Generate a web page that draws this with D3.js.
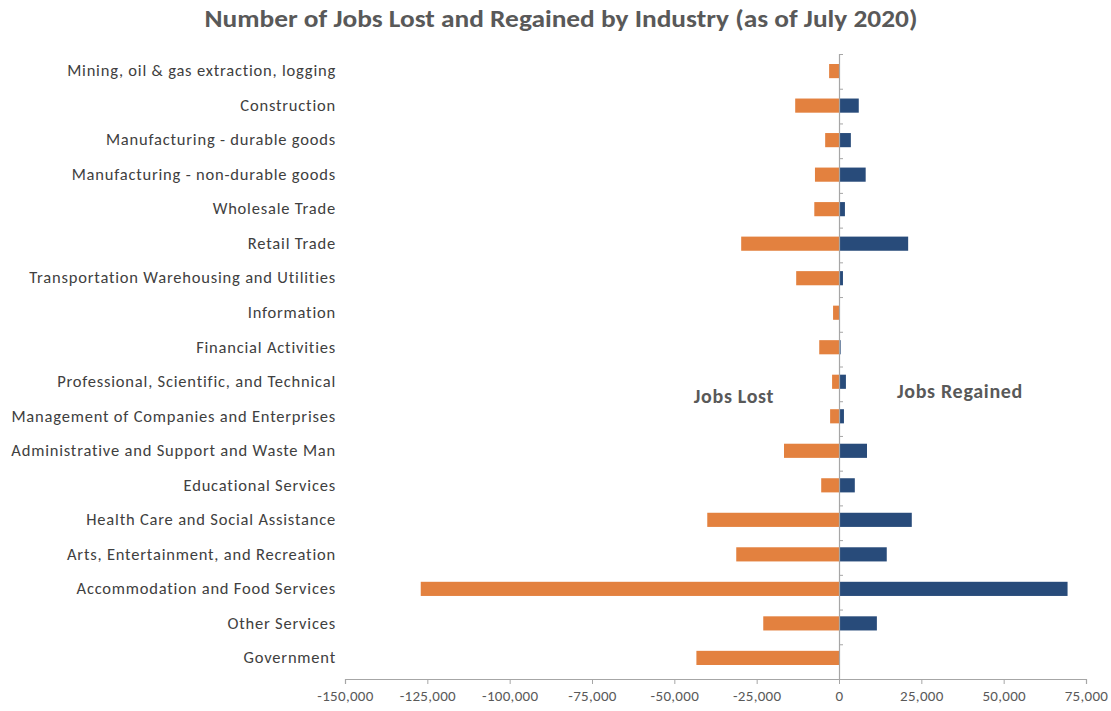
<!DOCTYPE html>
<html><head><meta charset="utf-8">
<script src="https://cdn.jsdelivr.net/npm/d3@7"></script>
<style>
body{margin:0;background:#fff;}
svg{display:block;}
</style></head>
<body><svg id="chart" width="1111" height="711"></svg>
<script>
const categories = [
  "Mining, oil & gas extraction, logging",
  "Construction",
  "Manufacturing - durable goods",
  "Manufacturing - non-durable goods",
  "Wholesale Trade",
  "Retail Trade",
  "Transportation Warehousing and Utilities",
  "Information",
  "Financial Activities",
  "Professional, Scientific, and Technical",
  "Management of Companies and Enterprises",
  "Administrative and Support and Waste Man",
  "Educational Services",
  "Health Care and Social Assistance",
  "Arts, Entertainment, and Recreation",
  "Accommodation and Food Services",
  "Other Services",
  "Government"
];
const jobsLost = [-3000,-13300,-4200,-7300,-7500,-29700,-13000,-1800,-6000,-2100,-2700,-16700,-5400,-40000,-31200,-127000,-23000,-43300];
const jobsRegained = [0,6000,3600,8100,1800,21000,1200,0,500,2100,1500,8500,4800,22100,14500,69400,11500,0];
const xTicks = [-150000,-125000,-100000,-75000,-50000,-25000,0,25000,50000,75000];
const title = "Number of Jobs Lost and Regained by Industry (as of July 2020)";

(function(){
const svg = d3.select("#chart");
const mLeft = 345, mRight = 1086, mTop = 54, mBottom = 679;
const x = d3.scaleLinear().domain([-150000,75000]).range([mLeft,mRight]);
const y = d3.scaleBand().domain(categories).range([mTop,mBottom-4]).paddingInner(0.59).paddingOuter(0.29);

const font = "Carlito, Lato, 'Open Sans', sans-serif";

// title
svg.append("text").attr("x",561).attr("y",27).attr("text-anchor","middle")
  .attr("font-family",font).attr("font-weight","bold").attr("font-size",24)
  .attr("fill","#595959").attr("textLength",713).attr("lengthAdjust","spacingAndGlyphs")
  .text(title);

// bars
svg.append("g").selectAll("rect").data(categories).join("rect")
  .attr("x",(d,i)=>x(jobsLost[i])).attr("width",(d,i)=>x(0)-x(jobsLost[i]))
  .attr("y",d=>y(d)).attr("height",y.bandwidth())
  .attr("fill","#E3813F");
svg.append("g").selectAll("rect").data(categories).join("rect")
  .attr("x",x(0)).attr("width",(d,i)=>x(jobsRegained[i])-x(0))
  .attr("y",d=>y(d)).attr("height",y.bandwidth())
  .attr("fill","#284B7A");

// bottom axis
const fmt = d3.format(",");
const xa = svg.append("g").attr("transform",`translate(0,${mBottom})`)
  .call(d3.axisBottom(x).tickValues(xTicks).tickSize(5).tickFormat(d=>fmt(d).replace("\u2212","-")));
xa.select(".domain").attr("stroke","#a6a6a6").attr("stroke-width",1.2);
xa.selectAll(".tick line").attr("stroke","#a6a6a6");
xa.selectAll("text").attr("font-family",font).attr("font-size",15).attr("letter-spacing",0.3)
  .attr("fill","#595959").attr("dy","0.95em");

// zero axis with boundary ticks
const b = d3.scaleLinear().domain([0,categories.length]).range([mTop,mBottom]);
const za = svg.append("g").attr("transform",`translate(${x(0)},0)`)
  .call(d3.axisRight(b).ticks(categories.length).tickSize(4).tickFormat(""));
za.select(".domain").attr("stroke","#a6a6a6").attr("stroke-width",1.2);
za.selectAll(".tick line").attr("stroke","#a6a6a6");

// category labels
const ya = svg.append("g").attr("transform",`translate(336,0)`)
  .call(d3.axisLeft(y).tickSize(0).tickPadding(0));
ya.select(".domain").remove();
ya.selectAll("text").attr("font-family",font).attr("font-size",16.5).attr("letter-spacing",0.8)
  .attr("fill","#404040");

// annotations
svg.append("text").attr("x",734).attr("y",403).attr("text-anchor","middle")
  .attr("font-family",font).attr("font-weight","bold").attr("font-size",20).attr("letter-spacing",0.7)
  .attr("fill","#595959").text("Jobs Lost");
svg.append("text").attr("x",960).attr("y",398).attr("text-anchor","middle")
  .attr("font-family",font).attr("font-weight","bold").attr("font-size",20).attr("letter-spacing",0.7)
  .attr("fill","#595959").text("Jobs Regained");
})();
</script></body></html>
